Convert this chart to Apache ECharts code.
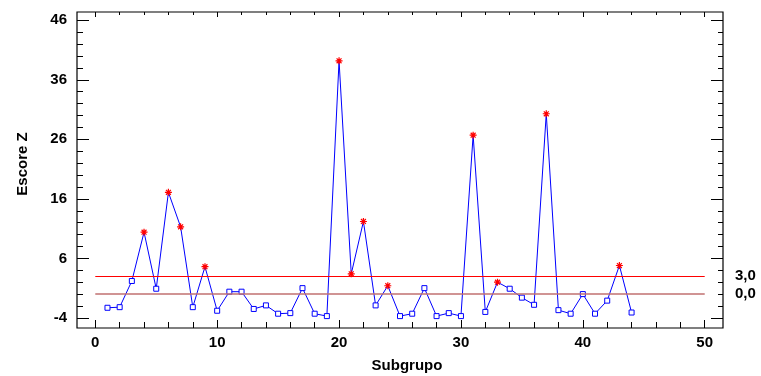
<!DOCTYPE html>
<html>
<head>
<meta charset="utf-8">
<script src="https://cdn.jsdelivr.net/npm/echarts@6/dist/echarts.min.js"></script>
<style>
  html, body { margin: 0; padding: 0; background: #fff; }
  #chart { width: 761px; height: 376px; }
</style>
</head>
<body>
<div id="chart"></div>
<script>
const subgroups = [1, 2, 3, 4, 5, 6, 7, 8, 9, 10, 11, 12, 13, 14, 15, 16, 17, 18, 19, 20, 21, 22,
  23, 24, 25, 26, 27, 28, 29, 30, 31, 32, 33, 34, 35, 36, 37, 38, 39, 40, 41, 42, 43, 44];
const zScores = [-2.3, -2.2, 2.2, 10.4, 0.9, 17.1, 11.3, -2.2, 4.6, -2.8, 0.4, 0.4, -2.5, -1.9,
  -3.3, -3.2, 1.0, -3.3, -3.7, 39.2, 3.4, 12.2, -1.9, 1.4, -3.7, -3.3, 1.0, -3.7, -3.2, -3.7,
  26.7, -3.0, 2.0, 0.9, -0.6, -1.8, 30.3, -2.7, -3.3, 0.0, -3.3, -1.1, 4.8, -3.1];
const flagged = [4, 6, 7, 9, 20, 21, 22, 24, 31, 33, 37, 43];

const xMajor = [0, 10, 20, 30, 40, 50];
const xMinor = [2, 4, 6, 8, 12, 14, 16, 18, 22, 24, 26, 28, 32, 34, 36, 38, 42, 44, 46, 48];
const yMajor = [-4, 6, 16, 26, 36, 46];
const yMinor = [-2, 0, 2, 4, 8, 10, 12, 14, 18, 20, 22, 24, 28, 30, 32, 34, 38, 40, 42, 44];
const limitValues = [3, 0];

const FONT = "'Liberation Sans', Arial, sans-serif";
const star = "path://M5,0L5,10M0,5L10,5M1.5,1.5L8.5,8.5M1.5,8.5L8.5,1.5";

const chart = echarts.init(document.getElementById("chart"), null, { renderer: "canvas" });

function xAxisDef(pos, ticks, len, labels) {
  return {
    type: "value", position: pos, min: -1.5, max: 51.5,
    axisLine: { show: false, onZero: false },
    splitLine: { show: false },
    axisTick: { show: true, inside: true, length: len, customValues: ticks,
      lineStyle: { color: "#000", width: 1 } },
    axisLabel: labels
      ? { show: true, customValues: ticks, margin: 7, color: "#000", fontFamily: FONT,
          fontSize: 15, fontWeight: "bold" }
      : { show: false }
  };
}

function yAxisDef(pos, ticks, len, labelValues, fmt) {
  return {
    type: "value", position: pos, min: -5.7, max: 47.4,
    axisLine: { show: false, onZero: false },
    splitLine: { show: false },
    axisTick: { show: true, inside: true, length: len, customValues: ticks,
      lineStyle: { color: "#000", width: 1 } },
    axisLabel: labelValues
      ? { show: true, customValues: labelValues, margin: pos === "left" ? 10 : 12, color: "#000",
          fontFamily: FONT, fontSize: 15, fontWeight: "bold", formatter: fmt }
      : { show: false }
  };
}

const seriesData = subgroups.map((s, i) => {
  if (flagged.includes(s)) {
    return {
      value: [s, zScores[i]],
      symbol: star,
      symbolSize: 7,
      itemStyle: { color: "rgba(0,0,0,0)", borderColor: "#ff0000", borderWidth: 1.2 }
    };
  }
  return [s, zScores[i]];
});

chart.setOption({
  animation: false,
  backgroundColor: "#fff",
  grid: {
    left: 77, right: 38, top: 12, bottom: 48,
    show: true, borderColor: "#000", borderWidth: 1.2, backgroundColor: "transparent"
  },
  xAxis: [
    xAxisDef("bottom", xMajor, 8, true),
    xAxisDef("bottom", xMinor, 6, false),
    xAxisDef("top", xMajor, 5, false),
    xAxisDef("top", xMinor, 3, false)
  ],
  yAxis: [
    yAxisDef("left", yMajor, 12, yMajor, (v) => String(v)),
    yAxisDef("left", yMinor, 6, null),
    yAxisDef("right", yMajor, 12, limitValues, (v) => v.toFixed(1).replace(".", ",")),
    yAxisDef("right", yMinor, 5, null)
  ],
  graphic: [
    {
      type: "text", x: 407, y: 358,
      style: { text: "Subgrupo", fill: "#000", font: "bold 15px " + FONT,
        textAlign: "center", textVerticalAlign: "top" }
    },
    {
      type: "text", x: 15, y: 164, rotation: Math.PI / 2,
      style: { text: "Escore Z", fill: "#000", font: "bold 15px " + FONT,
        textAlign: "center", textVerticalAlign: "top" }
    }
  ],
  series: [
    {
      type: "line",
      xAxisIndex: 0,
      yAxisIndex: 0,
      data: seriesData,
      symbol: "rect",
      symbolSize: 5,
      showAllSymbol: true,
      lineStyle: { color: "#0000ff", width: 1 },
      itemStyle: { color: "#ffffff", borderColor: "#0000ff", borderWidth: 1 },
      z: 3,
      markLine: {
        silent: true,
        symbol: "none",
        label: { show: false },
        data: [
          [{ coord: [0, limitValues[0]], lineStyle: { color: "#ff0000", width: 1, type: "solid" } },
           { coord: [50, limitValues[0]] }],
          [{ coord: [0, limitValues[1]], lineStyle: { color: "#c07070", width: 1.5, type: "solid" } },
           { coord: [50, limitValues[1]] }]
        ]
      }
    }
  ]
});
</script>
</body>
</html>
